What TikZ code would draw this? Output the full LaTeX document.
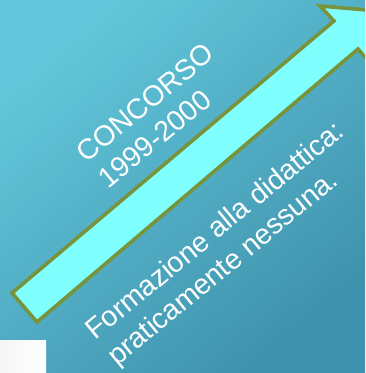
\documentclass[tikz,border=0pt]{standalone}
\usepackage{fontspec}
\setmainfont{Liberation Sans}
\definecolor{bgtop}{HTML}{62C7DA}
\definecolor{bgbot}{HTML}{3F92AD}
\definecolor{arrowfill}{HTML}{80FFFF}
\definecolor{arrowline}{HTML}{77933C}
\tikzset{
  lbl/.style={text=white, font=\fontsize{28.5}{34}\selectfont, inner sep=0pt, align=left, anchor=base west, rotate=39.5},
  bigarrow/.style={fill=arrowfill, draw=arrowline, line width=3.6pt, line join=miter}
}
\begin{document}
\begin{tikzpicture}[x=1pt,y=-1pt]
\useasboundingbox (0,0) rectangle (365,373);
\clip (0,0) rectangle (365,373);
\shade[shading=axis, top color=bgtop, bottom color=bgbot, shading angle=40] (0,0) rectangle (365,373);
\draw[bigarrow] (12,293) -- (334,21) -- (320,6) -- (374,10.6) -- (371,64) -- (358,49) -- (37,322) -- cycle;
\node[lbl] (t1) at (108,190) {CONCORSO\\1999-2000};
\node[lbl] (t2) at (117,367) {Formazione alla didattica:\\praticamente nessuna.};
\shade[left color=gray!8, right color=white] (0,340) rectangle (46,373);
\end{tikzpicture}
\end{document}
